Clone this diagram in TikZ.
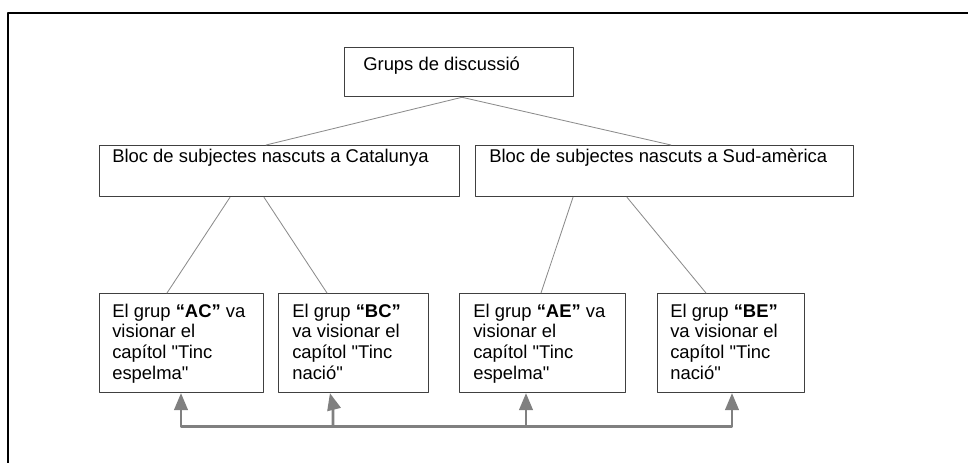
\documentclass[tikz,border=0pt]{standalone}
\usepackage{fontspec}
\setmainfont{Liberation Sans}[Ligatures=TeXOff]
\usetikzlibrary{arrows,calc}

\tikzset{
  caixa/.style={draw=black!75, line width=0.9pt, anchor=north west, inner sep=0pt},
  rotul/.style={anchor=base west, inner sep=0pt, font=\fontsize{13.1}{14.9}\selectfont},
  branca/.style={draw=black!45, line width=0.6pt},
  fletxa/.style={draw=black!50, line width=1.8pt}
}
\newcommand{\quatre}[4]{\parbox[t]{4cm}{#1\\#2\\#3\\#4}}

\begin{document}
\begin{tikzpicture}[line cap=round,line join=round,>=triangle 45,x=0.025cm,y=-0.025cm]
\useasboundingbox (0,0) rectangle (968,462);
% marc
\draw[line width=1pt] (8,470) -- (8,13) -- (975,13);
% caixes
\node[caixa, minimum width=5.725cm, minimum height=1.225cm] (grups) at (344,47) {};
\node[caixa, minimum width=9cm, minimum height=1.275cm] (cat) at (99,145) {};
\node[caixa, minimum width=9.45cm, minimum height=1.275cm] (sud) at (475,145) {};
\node[caixa, minimum width=4.1cm, minimum height=2.475cm] (ac) at (99,293) {};
\node[caixa, minimum width=3.75cm, minimum height=2.475cm] (bc) at (278,293) {};
\node[caixa, minimum width=4.15cm, minimum height=2.475cm] (ae) at (459,293) {};
\node[caixa, minimum width=3.675cm, minimum height=2.475cm] (be) at (657,293) {};
% textos
\node[rotul] (tgrups) at ($(grups.north west)+(19,23)$) {Grups de discussió};
\node[rotul] (tcat) at ($(cat.north west)+(13,17)$) {Bloc de subjectes nascuts a Catalunya};
\node[rotul] (tsud) at ($(sud.north west)+(14,17)$) {Bloc de subjectes nascuts a Sud-amèrica};
\node[rotul] (tac) at ($(ac.north west)+(13,24)$) {\quatre{El grup \textbf{“AC”} va}{visionar el}{capítol "Tinc}{espelma"}};
\node[rotul] (tbc) at ($(bc.north west)+(14,24)$) {\quatre{El grup \textbf{“BC”}}{va visionar el}{capítol "Tinc}{nació"}};
\node[rotul] (tae) at ($(ae.north west)+(14,24)$) {\quatre{El grup \textbf{“AE”} va}{visionar el}{capítol "Tinc}{espelma"}};
\node[rotul] (tbe) at ($(be.north west)+(13,24)$) {\quatre{El grup \textbf{“BE”}}{va visionar el}{capítol "Tinc}{nació"}};
% branques
\draw[branca] ($(grups.south west)+(118,0)$) -- ($(cat.north west)+(167,0)$);
\draw[branca] ($(grups.south west)+(118,0)$) -- ($(sud.north west)+(196,0)$);
\draw[branca] ($(cat.south west)+(131,0)$) -- ($(ac.north west)+(68,0)$);
\draw[branca] ($(cat.south west)+(165,0)$) -- ($(bc.north west)+(49,0)$);
\draw[branca] ($(sud.south west)+(98,0)$) -- ($(ae.north west)+(82,0)$);
\draw[branca] ($(sud.south west)+(152,0)$) -- ($(be.north west)+(49,0)$);
% fletxes
\coordinate (pac) at ($(ac.south west)+(82,0)$);
\coordinate (pbc) at ($(bc.south west)+(52,0)$);
\coordinate (pae) at ($(ae.south west)+(67,0)$);
\coordinate (pbe) at ($(be.south west)+(75,0)$);
\draw[fletxa,<->] (pac) -- ++(0,33) -| (pbe);
\draw[fletxa,->] ($(pbc)+(3,33)$) -- ($(pbc)+(3,12)$) -- (pbc);
\draw[fletxa,->] ($(pae)+(0,33)$) -- (pae);
\end{tikzpicture}
\end{document}
